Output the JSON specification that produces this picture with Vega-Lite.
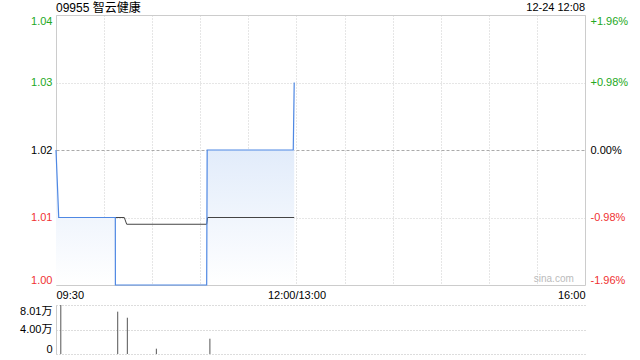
{
  "$schema": "https://vega.github.io/schema/vega-lite/v6.json",
  "padding": {"left": 5, "top": 1, "right": 0, "bottom": 0},
  "config": {
    "font": "Liberation Sans",
    "axis": {"labelFont": "Liberation Sans", "labelFontSize": 11, "ticks": false, "tickSize": 0, "domain": false, "gridColor": "#cccccc", "gridDash": [1, 2], "labelColor": "#000000"},
    "view": {"stroke": "#cccccc"}
  },
  "datasets": {
    "price": [
      {"m": 0, "p": 1.02},
      {"m": 1.7, "p": 1.01},
      {"m": 37, "p": 1.01},
      {"m": 37.05, "p": 1.0},
      {"m": 94, "p": 1.0},
      {"m": 94.3, "p": 1.02},
      {"m": 148, "p": 1.02},
      {"m": 148.6, "p": 1.03}
    ],
    "avg": [
      {"m": 1.7, "p": 1.01},
      {"m": 42.6, "p": 1.01},
      {"m": 44.1, "p": 1.009},
      {"m": 94, "p": 1.009},
      {"m": 94.6, "p": 1.01},
      {"m": 148.6, "p": 1.01}
    ],
    "name": [{"m": 0, "p": 1.04, "t": "09955 智云健康"}],
    "stamp": [{"m": 330, "p": 1.04, "t": "12-24 12:08"}],
    "mark": [{"m": 323, "p": 1.0, "t": "sina.com"}],
    "vol": [
      {"m": 3, "v": 80100},
      {"m": 38.5, "v": 69200},
      {"m": 44.5, "v": 59300},
      {"m": 62.6, "v": 8700},
      {"m": 96, "v": 25000}
    ]
  },
  "spacing": 3,
  "vconcat": [
    {
      "width": 529,
      "height": 270,
      "layer": [
        {
          "layer": [
            {
              "data": {"name": "price"},
              "mark": {"type": "area", "fill": {"gradient": "linear", "x1": 0, "y1": 0, "x2": 0, "y2": 1, "stops": [{"offset": 0, "color": "#d3e2f8"}, {"offset": 1, "color": "#ffffff"}]}, "stroke": null},
              "encoding": {
                "x": {"field": "m", "type": "quantitative", "title": null, "scale": {"domain": [0, 330], "nice": false, "zero": false},
                  "axis": {"values": [0, 30, 60, 90, 120, 150, 180, 210, 240, 270, 300, 330], "labelExpr": "datum.value == 0 ? '09:30' : datum.value == 150 ? '12:00/13:00' : datum.value == 330 ? '16:00' : ''", "labelFlush": true, "labelOverlap": false, "grid": true, "labelPadding": 4}},
                "y": {"field": "p", "type": "quantitative", "title": null, "scale": {"domain": [1.0, 1.04], "nice": false, "zero": false},
                  "axis": {"values": [1.0, 1.01, 1.02, 1.03, 1.04], "format": ".2f", "labelFlush": true, "labelOverlap": false, "minExtent": 50, "maxExtent": 50, "labelPadding": 4, "grid": true,
                    "labelColor": {"condition": [{"test": "datum.value > 1.025", "value": "#22a822"}, {"test": "datum.value < 1.015", "value": "#f03232"}], "value": "#000000"},
                    "gridDash": {"condition": {"test": "datum.value > 1.015 && datum.value < 1.025", "value": [3, 2]}, "value": [1, 2]},
                    "gridColor": {"condition": {"test": "datum.value > 1.015 && datum.value < 1.025", "value": "#aaaaaa"}, "value": "#cccccc"},
                    "gridOpacity": {"condition": {"test": "datum.value < 1.005 || datum.value > 1.035", "value": 0}, "value": 1}}},
                "y2": {"datum": 1.0}
              }
            },
            {
              "data": {"name": "avg"},
              "mark": {"type": "line", "color": "#444444", "strokeWidth": 1},
              "encoding": {
                "x": {"field": "m", "type": "quantitative", "title": null},
                "y": {"field": "p", "type": "quantitative", "title": null}
              }
            },
            {
              "data": {"name": "price"},
              "mark": {"type": "line", "color": "#4f88e3", "strokeWidth": 1.2},
              "encoding": {
                "x": {"field": "m", "type": "quantitative", "title": null},
                "y": {"field": "p", "type": "quantitative", "title": null}
              }
            },
            {
              "data": {"name": "name"},
              "mark": {"type": "text", "align": "left", "baseline": "middle", "dy": -7, "fontSize": 12, "font": "Liberation Sans, Noto Sans CJK SC", "color": "#000000"},
              "encoding": {
                "x": {"field": "m", "type": "quantitative", "title": null},
                "y": {"field": "p", "type": "quantitative", "title": null},
                "text": {"field": "t"}
              }
            },
            {
              "data": {"name": "stamp"},
              "mark": {"type": "text", "align": "right", "baseline": "middle", "dy": -7, "fontSize": 11, "color": "#000000"},
              "encoding": {
                "x": {"field": "m", "type": "quantitative", "title": null},
                "y": {"field": "p", "type": "quantitative", "title": null},
                "text": {"field": "t"}
              }
            },
            {
              "data": {"name": "mark"},
              "mark": {"type": "text", "align": "right", "baseline": "bottom", "dy": -1, "fontSize": 10, "color": "#bbbbbb"},
              "encoding": {
                "x": {"field": "m", "type": "quantitative", "title": null},
                "y": {"field": "p", "type": "quantitative", "title": null},
                "text": {"field": "t"}
              }
            }
          ]
        },
        {
          "data": {"name": "price"},
          "mark": {"type": "line", "opacity": 0},
          "encoding": {
            "x": {"field": "m", "type": "quantitative", "title": null},
            "y": {"field": "p", "type": "quantitative", "title": null, "scale": {"domain": [1.0, 1.04], "nice": false, "zero": false},
              "axis": {"orient": "right", "values": [1.0, 1.01, 1.02, 1.03, 1.04], "labelFlush": true, "labelOverlap": false, "labelPadding": 5, "grid": false,
                "labelExpr": "datum.value > 1.035 ? '+1.96%' : datum.value > 1.025 ? '+0.98%' : datum.value > 1.015 ? '0.00%' : datum.value > 1.005 ? '-0.98%' : '-1.96%'",
                "labelColor": {"condition": [{"test": "datum.value > 1.025", "value": "#22a822"}, {"test": "datum.value < 1.015", "value": "#f03232"}], "value": "#000000"}}}
          }
        }
      ],
      "resolve": {"scale": {"y": "independent"}}
    },
    {
      "width": 529,
      "height": 49,
      "view": {"stroke": null},
      "data": {"name": "vol"},
      "mark": {"type": "rule", "color": "#555555", "strokeWidth": 1},
      "encoding": {
        "x": {"field": "m", "type": "quantitative", "title": null, "scale": {"domain": [0, 330], "nice": false, "zero": false}, "axis": null},
        "y": {"field": "v", "type": "quantitative", "title": null, "scale": {"domain": [0, 80100], "nice": false},
          "axis": {"values": [0, 40050, 80100], "labelExpr": "datum.value == 0 ? '0' : datum.value < 50000 ? '4.00万' : '8.01万'", "labelFlush": true, "labelOverlap": false, "grid": true, "gridColor": "#bbbbbb", "domain": true, "domainColor": "#cccccc", "minExtent": 50, "maxExtent": 50, "labelPadding": 4, "labelFont": "Liberation Sans, Noto Sans CJK SC"}},
        "y2": {"datum": 0}
      }
    }
  ]
}
